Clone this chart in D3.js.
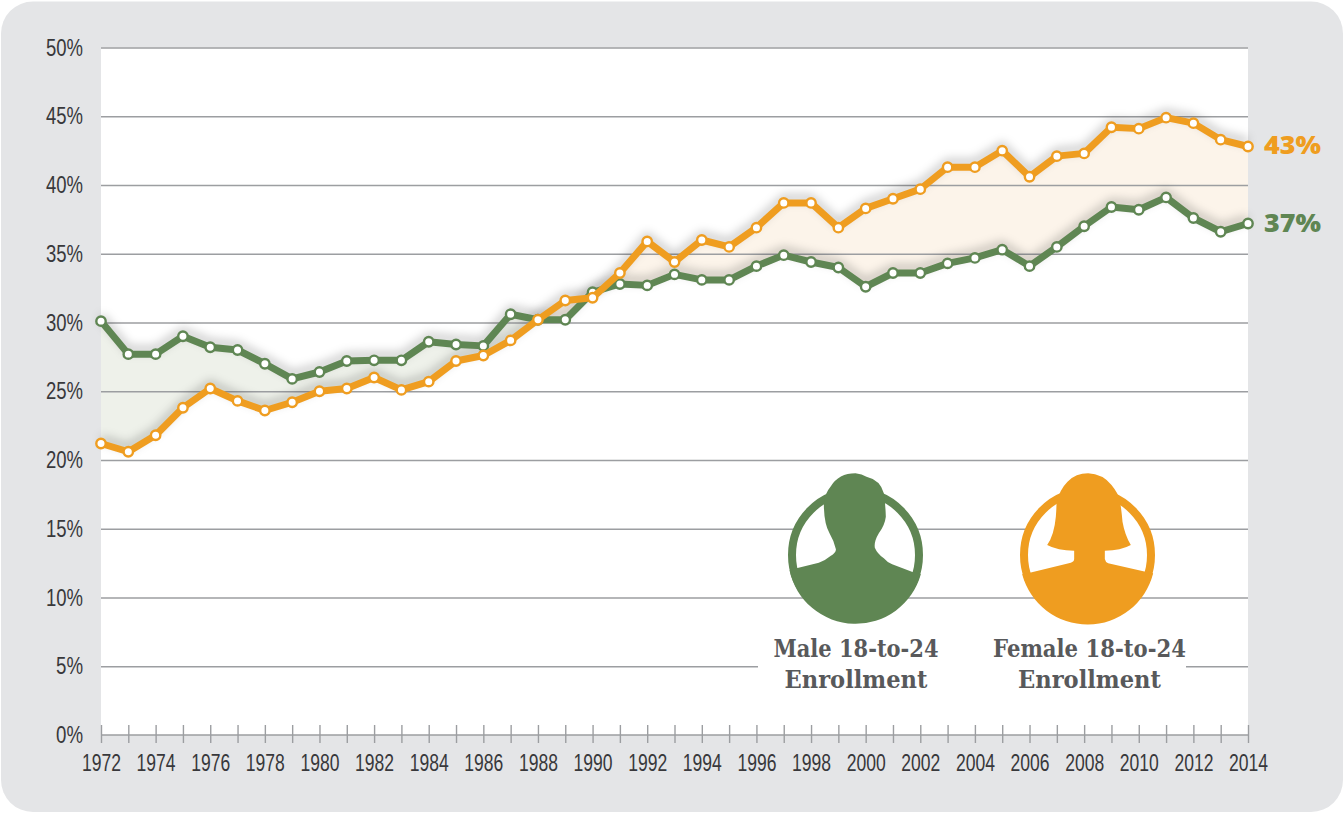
<!DOCTYPE html>
<html>
<head>
<meta charset="utf-8">
<script src="https://cdn.jsdelivr.net/npm/d3@7"></script>
<style>
html, body { margin: 0; padding: 0; background: #fff; }
svg { display: block; }
.tick-label { font-family: "Liberation Sans", sans-serif; fill: #38383b; }
.legend-label { font-family: "DejaVu Serif", serif; font-weight: 700; fill: #58595b; }
</style>
</head>
<body>
<div class="chart"></div>
<script>
const years = d3.range(1972, 2015);
const male = [30.1, 27.7, 27.7, 29, 28.2, 28, 27, 25.9, 26.4, 27.2, 27.25, 27.25, 28.6, 28.4, 28.3,
    30.6, 30.2, 30.2, 32.2, 32.8, 32.7, 33.5, 33.1, 33.1, 34.1, 34.9, 34.4, 34, 32.6, 33.6, 33.6,
    34.3, 34.7, 35.3, 34.1, 35.5, 37, 38.4, 38.2, 39.1, 37.6, 36.6, 37.2];
const female = [21.2, 20.6, 21.8, 23.8, 25.2, 24.3, 23.6, 24.2, 25, 25.2, 26, 25.1, 25.7, 27.2, 27.6,
    28.7, 30.2, 31.6, 31.8, 33.6, 35.9, 34.4, 36, 35.5, 36.9, 38.7, 38.7, 36.9, 38.3, 39, 39.7,
    41.3, 41.3, 42.5, 40.6, 42.1, 42.3, 44.2, 44.1, 44.9, 44.5, 43.3, 42.8];
const yTicks = [0, 5, 10, 15, 20, 25, 30, 35, 40, 45, 50];

const width = 1344, height = 813;
const green = '#5f8653', orange = '#ef9d20';
const plotL = 101, plotR = 1248, plotT = 47.5, plotB = 735;

let svg = d3.select('.chart')
    .append('svg')
    .attr('width', width)
    .attr('height', height);

let x_scale = d3.scaleLinear().domain([1972, 2014]).range([plotL, plotR]);
let y_scale = d3.scaleLinear().domain([0, 50]).range([plotB, plotT]);

let defs = svg.append('defs');
defs.append('filter')
    .attr('id', 'line-shadow')
    .attr('x', '-5%').attr('y', '-20%').attr('width', '110%').attr('height', '140%')
    .append('feGaussianBlur')
    .attr('stdDeviation', 5);

// panel and plot background
svg.append('rect')
    .attr('x', 1).attr('y', 1.5)
    .attr('width', 1342).attr('height', 810.5)
    .attr('rx', 32).attr('ry', 32)
    .attr('fill', '#e4e5e7');
svg.append('rect')
    .attr('x', plotL).attr('y', plotT)
    .attr('width', plotR - plotL).attr('height', plotB - plotT)
    .attr('fill', '#fff');

// band between the two series, tinted by whichever is higher
let rows = years.map((y, i) => ({ year: y, m: male[i], f: female[i] }));
let clipArea = key => d3.area()
    .x(d => x_scale(d.year))
    .y0(plotB)
    .y1(d => y_scale(d[key]));
defs.append('clipPath').attr('id', 'below-male')
    .append('path').attr('d', clipArea('m')(rows));
defs.append('clipPath').attr('id', 'below-female')
    .append('path').attr('d', clipArea('f')(rows));
let aboveArea = key => d3.area()
    .x(d => x_scale(d.year))
    .y0(plotT)
    .y1(d => y_scale(d[key]));
svg.append('path')
    .attr('d', aboveArea('f')(rows))
    .attr('clip-path', 'url(#below-male)')
    .attr('fill', '#eef1ea');
svg.append('path')
    .attr('d', aboveArea('m')(rows))
    .attr('clip-path', 'url(#below-female)')
    .attr('fill', '#fcf4ea');

// grid + y labels
let y_Axis = d3.axisLeft()
    .scale(y_scale)
    .tickValues(yTicks)
    .tickSize(-(plotR - plotL))
    .tickPadding(18)
    .tickFormat(d => d + '%');
let yG = svg.append('g')
    .attr('transform', `translate(${plotL}, 0)`)
    .call(y_Axis);
yG.select('.domain').remove();
yG.selectAll('line')
    .attr('stroke', '#9c9ea1')
    .attr('stroke-width', 1.4)
    .filter(d => d === 0).remove();
yG.selectAll('text')
    .attr('class', 'tick-label')
    .attr('font-size', 24)
    .attr('lengthAdjust', 'spacingAndGlyphs')
    .attr('textLength', d => (d < 10 ? 27 : 37));

// x axis, tick for each year and label for every second one
let x_Axis = d3.axisBottom()
    .scale(x_scale)
    .tickValues(years)
    .tickSize(8)
    .tickPadding(11)
    .tickFormat(d => (d % 2 === 0 ? d : ''));
let xG = svg.append('g')
    .attr('transform', `translate(0, ${plotB})`)
    .call(x_Axis);
xG.select('.domain')
    .attr('d', `M${plotL},0H${plotR}`)
    .attr('stroke', '#9c9ea1')
    .attr('stroke-width', 1.4);
xG.selectAll('line')
    .attr('y1', -10)
    .attr('stroke', '#9c9ea1')
    .attr('stroke-width', 1.4);
xG.selectAll('text')
    .attr('class', 'tick-label')
    .attr('font-size', 23.5)
    .filter(d => d % 2 === 0)
    .attr('lengthAdjust', 'spacingAndGlyphs')
    .attr('textLength', 39);

// legend sits on white, which cuts the grid behind the labels
svg.append('rect')
    .attr('x', 758).attr('y', 628)
    .attr('width', 428).attr('height', 70)
    .attr('fill', '#fff');

let line = key => d3.line()
    .x(d => x_scale(d.year))
    .y(d => y_scale(d[key]));

let series = [
    { key: 'm', color: green },
    { key: 'f', color: orange }
];
series.forEach(s => {
    svg.append('path')
        .attr('d', line(s.key)(rows))
        .attr('transform', 'translate(0, -5)')
        .attr('fill', 'none')
        .attr('stroke', '#000')
        .attr('stroke-opacity', 0.22)
        .attr('stroke-width', 7)
        .attr('filter', 'url(#line-shadow)');
});
series.forEach(s => {
    svg.append('path')
        .attr('d', line(s.key)(rows))
        .attr('fill', 'none')
        .attr('stroke', s.color)
        .attr('stroke-width', 7)
        .attr('stroke-linejoin', 'round');
    svg.append('g')
        .selectAll('circle')
        .data(rows)
        .join('circle')
        .attr('cx', d => x_scale(d.year))
        .attr('cy', d => y_scale(d[s.key]))
        .attr('r', 4.7)
        .attr('fill', '#fff')
        .attr('stroke', s.color)
        .attr('stroke-width', 2.4);
});

// end labels
const endLabels = [
    { text: '43%', y: 154, color: orange },
    { text: '37%', y: 232, color: green }
];
endLabels.forEach(l => {
    svg.append('text')
        .attr('x', 1264).attr('y', l.y)
        .attr('font-family', '"Open Sans", sans-serif')
        .attr('font-weight', 800)
        .attr('font-size', 25)
        .attr('fill', l.color)
        .attr('lengthAdjust', 'spacingAndGlyphs')
        .attr('textLength', 57)
        .text(l.text);
});

// person icons, outline in 3x units around the circle centre
const maleIcon = 'M-177,40 L-110,23 Q-90,16 -75,3 Q-57,-8 -59,-18 Q-66,-45 -78,-65 Q-95,-95 -95,-155 Q-92,-185 -75,-205 Q-50,-245 0,-245 Q20,-243 33,-235 Q75,-225 85,-185 Q90,-150 91,-115 Q88,-90 70,-65 Q55,-40 58,-22 Q65,-5 85,10 Q95,22 110,28 L173,52 L196,58 A203,203 0 0 1 -198,46 Z';
const femaleIcon = 'M-173,53 L-50,23 Q-40,20 -40,12 L-40,-13 Q-90,-13 -121,-30 Q-100,-60 -95,-115 Q-93,-140 -93,-155 Q-85,-195 -60,-220 Q-35,-245 2,-245 Q45,-243 72,-210 Q92,-185 97,-165 Q102,-135 105,-100 Q112,-60 130,-30 Q100,-13 52,-13 L52,12 Q54,22 62,25 L174,50 L197,55 A203,203 0 0 1 -196,58 Z';

function drawIcon(cx, cy, color, path) {
    let g = svg.append('g').attr('transform', `translate(${cx}, ${cy})`);
    g.append('circle')
        .attr('r', 63.5)
        .attr('fill', '#fff')
        .attr('stroke', color)
        .attr('stroke-width', 8);
    g.append('path')
        .attr('d', path)
        .attr('transform', 'scale(0.3333)')
        .attr('fill', color);
}
drawIcon(855.5, 555, green, maleIcon);
drawIcon(1087.5, 555, orange, femaleIcon);

const legendLabels = [
    { x: 856, lines: ['Male 18-to-24', 'Enrollment'], widths: [165, 143] },
    { x: 1089.5, lines: ['Female 18-to-24', 'Enrollment'], widths: [193, 143] }
];
legendLabels.forEach(l => {
    l.lines.forEach((t, i) => {
        svg.append('text')
            .attr('class', 'legend-label')
            .attr('x', l.x)
            .attr('y', 657 + i * 31)
            .attr('text-anchor', 'middle')
            .attr('font-size', 24)
            .attr('lengthAdjust', 'spacingAndGlyphs')
            .attr('textLength', l.widths[i])
            .text(t);
    });
});
</script>
</body>
</html>
